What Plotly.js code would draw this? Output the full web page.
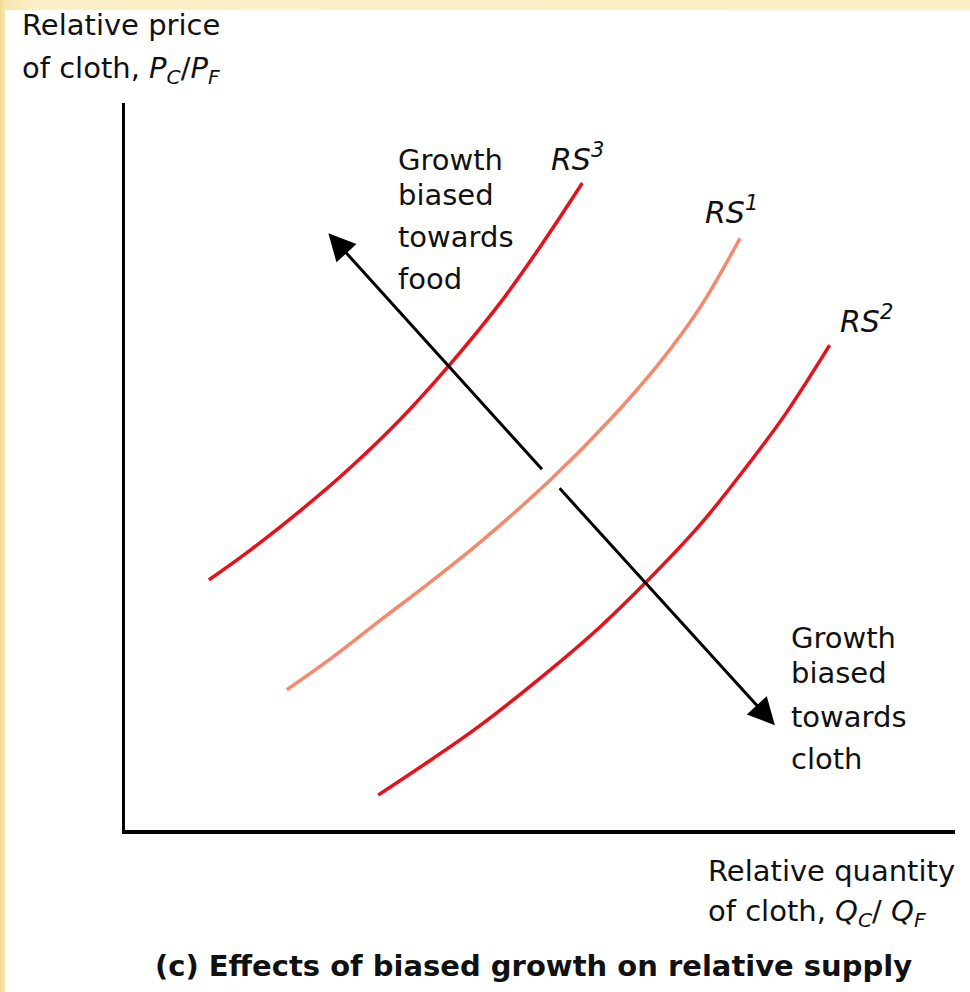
<!DOCTYPE html>
<html>
<head>
<meta charset="utf-8">
<script src="https://cdn.plot.ly/plotly-3.0.1.min.js"></script>
<style>
  html, body { margin: 0; padding: 0; width: 970px; height: 992px; overflow: hidden;
    background: linear-gradient(90deg, #f0d88e 0px, #f6e6ae 5px, #fcf0c8 40px, #fcefc6 100%); }
  #chart { position: absolute; left: 5px; top: 10px; width: 965px; height: 982px; background: #fff; }
</style>
</head>
<body>
<div id="chart"></div>
<script>
// Relative supply curves (x = relative quantity Qc/Qf, y = relative price Pc/Pf)
const rs3X = [1.01, 1.51, 2.11, 2.71, 3.31, 3.89, 4.52, 5.00, 5.51];
const rs3Y = [3.44, 3.85, 4.39, 4.98, 5.64, 6.37, 7.25, 8.02, 8.90];

const rs1X = [1.95, 2.47, 3.07, 3.68, 4.28, 5.12, 5.84, 6.45, 6.93, 7.41];
const rs1Y = [1.93, 2.35, 2.88, 3.41, 3.96, 4.81, 5.64, 6.44, 7.19, 8.14];

const rs2X = [3.05, 3.68, 4.28, 5.12, 5.72, 6.27, 6.93, 7.53, 7.95, 8.49];
const rs2Y = [0.48, 0.96, 1.44, 2.20, 2.79, 3.40, 4.20, 5.06, 5.71, 6.67];

// Growth arrows: [tail, tip]
const foodArrowX = [5.04, 2.45];
const foodArrowY = [4.94, 8.21];
const clothArrowX = [5.22, 7.83];
const clothArrowY = [4.72, 1.44];

const curveNames = ['RS<sup>3</sup>', 'RS<sup>1</sup>', 'RS<sup>2</sup>'];
const xAxisLines = ['Relative quantity', 'of cloth, <i>Q<sub>C</sub></i>/ <i>Q<sub>F</sub></i>'];
const yAxisLines = ['Relative price', 'of cloth, <i>P<sub>C</sub></i>/<i>P<sub>F</sub></i>'];
const chartTitle = '(c) Effects of biased growth on relative supply';
const foodLines = ['Growth', 'biased', 'towards', 'food'];
const clothLines = ['Growth', 'biased', 'towards', 'cloth'];

const RED = '#e8101a';
const SALMON = '#f5896e';
const FONT = 'DejaVu Sans, Liberation Sans, Arial, sans-serif';

// page geometry of the plot area (page pixels)
const PL = 125, PR = 955, PT = 103, PB = 830;
const px2paperX = (px) => (px - PL) / (PR - PL);
const px2paperY = (py) => (PB - py) / (PB - PT);

const curve = (x, y, color) => ({
  x, y, type: 'scatter', mode: 'lines',
  line: { color, width: 3.5, shape: 'spline', smoothing: 1 },
  hoverinfo: 'skip', showlegend: false
});

const traces = [
  curve(rs3X, rs3Y, RED),
  curve(rs1X, rs1Y, SALMON),
  curve(rs2X, rs2Y, RED)
];

const txt = (size, extra) => Object.assign({ family: FONT, size, color: '#111' }, extra || {});

// one text line placed by its left (or centre) x and its baseline y, in page pixels
const lineAnn = (text, pageX, baseline, size, xanchor, fontExtra) => ({
  xref: 'paper', yref: 'paper',
  x: px2paperX(pageX), y: px2paperY(baseline - size - 1),
  xanchor: xanchor || 'left', yanchor: 'top', align: 'left',
  text, showarrow: false, font: txt(size, fontExtra)
});

const block = (lines, pageX, baselines, size) =>
  lines.map((t, i) => lineAnn(t, pageX, baselines[i], size));

const curveLabel = (name, xs, ys, dx, dy) => ({
  x: xs[xs.length - 1], y: ys[ys.length - 1], xref: 'x', yref: 'y',
  text: '<i>' + name + '</i>', showarrow: false,
  xanchor: 'center', yanchor: 'bottom', xshift: dx, yshift: dy,
  font: txt(30)
});

const arrow = (xs, ys) => ({
  x: xs[1], y: ys[1], ax: xs[0], ay: ys[0],
  xref: 'x', yref: 'y', axref: 'x', ayref: 'y',
  text: '', showarrow: true, arrowhead: 2, arrowsize: 1.8, arrowwidth: 3,
  arrowcolor: '#000', standoff: 0
});

const annotations = [].concat(
  block(yAxisLines, 20, [36, 79], 29),
  block(xAxisLines, 706, [882, 922], 29),
  block(foodLines, 396, [171, 206, 248, 290], 29),
  block(clothLines, 789, [649, 684, 728, 770], 29),
  [lineAnn('<b>' + chartTitle + '</b>', 533, 977, 29, 'center', { weight: 'bold' })],
  [curveLabel(curveNames[0], rs3X, rs3Y, -5, 4),
   curveLabel(curveNames[1], rs1X, rs1Y, -9, 6),
   curveLabel(curveNames[2], rs2X, rs2Y, 37, 4),
   arrow(foodArrowX, foodArrowY),
   arrow(clothArrowX, clothArrowY)]
);

const layout = {
  width: 965, height: 982,
  margin: { l: 120, r: 15, t: 93, b: 162 },
  paper_bgcolor: '#ffffff', plot_bgcolor: '#ffffff',
  xaxis: { range: [0, 10], showgrid: false, zeroline: false, showticklabels: false,
           ticks: '', showline: true, linecolor: '#000', linewidth: 3.5, fixedrange: true },
  yaxis: { range: [0, 10], showgrid: false, zeroline: false, showticklabels: false,
           ticks: '', showline: true, linecolor: '#000', linewidth: 3.5, fixedrange: true },
  annotations
};

Plotly.newPlot('chart', traces, layout, { displayModeBar: false, staticPlot: true });
</script>
</body>
</html>
